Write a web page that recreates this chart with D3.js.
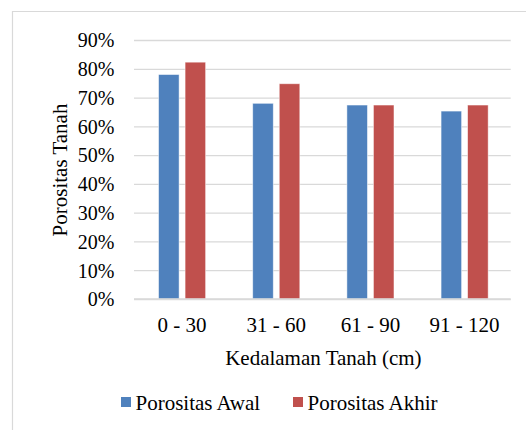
<!DOCTYPE html>
<html>
<head>
<meta charset="utf-8">
<script src="https://cdn.jsdelivr.net/npm/d3@7"></script>
</head>
<body style="margin:0;background:#fff">
<svg id="chart" width="526" height="430"></svg>
<script>
// Soil depth classes and porosity before/after
const categories = ["0 - 30", "31 - 60", "61 - 90", "91 - 120"];
const seriesNames = ["Porositas Awal", "Porositas Akhir"];
const porositasAwal = [0.78, 0.68, 0.674, 0.653];
const porositasAkhir = [0.823, 0.748, 0.674, 0.674];
const yTicks = [0, 0.1, 0.2, 0.3, 0.4, 0.5, 0.6, 0.7, 0.8, 0.9];
const colors = ["#4f81bd", "#c0504d"];
const FONT = "'Liberation Serif'";

const svg = d3.select("#chart");

// chart frame
svg.append("path")
  .attr("d", "M12.5,430 V11.5 H526")
  .attr("fill", "none")
  .attr("stroke", "#d9d9d9")
  .attr("stroke-width", 1.2);

const plot = { left: 134, right: 510.7, top: 40, bottom: 299 };

const x0 = d3.scaleBand()
  .domain(categories)
  .range([plot.left, plot.right])
  .paddingInner(0)
  .paddingOuter(0);

const groupW = x0.bandwidth() * 0.5;
const x1 = d3.scaleBand()
  .domain(seriesNames)
  .range([-groupW / 2, groupW / 2])
  .paddingInner(0.2256)
  .paddingOuter(0);

const y = d3.scaleLinear()
  .domain([0, 0.9])
  .range([plot.bottom, plot.top]);

// gridlines and value labels
const yAxis = d3.axisLeft(y)
  .tickValues(yTicks)
  .tickFormat(d3.format(".0%"))
  .tickSize(-(plot.right - plot.left))
  .tickPadding(20);

const gy = svg.append("g")
  .attr("transform", `translate(${plot.left},0)`)
  .call(yAxis);
gy.select(".domain").remove();
gy.selectAll(".tick line")
  .attr("stroke", "#d9d9d9")
  .attr("stroke-width", 1.3);
gy.selectAll(".tick text")
  .style("font-family", FONT)
  .style("font-size", "20px")
  .attr("fill", "#000")
  .attr("x", 114.5 - plot.left)
  .attr("dy", "0.34em");

// bars
const rows = categories.map((c, i) => ({
  cat: c,
  vals: [porositasAwal[i], porositasAkhir[i]]
}));

const groups = svg.append("g").selectAll("g")
  .data(rows)
  .join("g")
  .attr("transform", d => `translate(${x0(d.cat) + x0.bandwidth() / 2 + 1},0)`);

groups.selectAll("rect")
  .data(d => d.vals.map((v, j) => ({ name: seriesNames[j], v, j })))
  .join("rect")
  .attr("x", d => x1(d.name))
  .attr("width", x1.bandwidth())
  .attr("y", d => y(d.v))
  .attr("height", d => y(0) - y(d.v))
  .attr("fill", d => colors[d.j])
  .attr("stroke", "#ffffff")
  .attr("stroke-opacity", 0.6)
  .attr("stroke-width", 0.8);

// category axis
const xAxis = d3.axisBottom(x0).tickSize(0).tickPadding(0);
const gx = svg.append("g")
  .attr("transform", `translate(1,${plot.bottom})`)
  .call(xAxis);
gx.select(".domain").remove();
gx.selectAll(".tick text")
  .style("font-family", FONT)
  .style("font-size", "21px")
  .attr("fill", "#000")
  .attr("y", 33)
  .attr("dy", 0);

svg.append("line")
  .attr("x1", plot.left).attr("x2", plot.right)
  .attr("y1", plot.bottom).attr("y2", plot.bottom)
  .attr("stroke", "#d9d9d9")
  .attr("stroke-width", 1.3);

// axis titles
svg.append("text")
  .attr("x", (plot.left + plot.right) / 2 + 1)
  .attr("y", 365)
  .attr("text-anchor", "middle")
  .style("font-family", FONT)
  .style("font-size", "21px")
  .text("Kedalaman Tanah (cm)");

svg.append("text")
  .attr("transform", "translate(67,170) rotate(-90)")
  .attr("text-anchor", "middle")
  .style("font-family", FONT)
  .style("font-size", "21px")
  .text("Porositas Tanah");

// legend
const legendX = [121, 293];
const legend = svg.append("g").selectAll("g")
  .data(seriesNames)
  .join("g")
  .attr("transform", (d, i) => `translate(${legendX[i]},0)`);
legend.append("rect")
  .attr("x", 0).attr("y", 397)
  .attr("width", 10).attr("height", 10)
  .attr("fill", (d, i) => colors[i]);
legend.append("text")
  .attr("x", 14.5)
  .attr("y", 410)
  .style("font-family", FONT)
  .style("font-size", "21px")
  .text(d => d);
</script>
</body>
</html>
